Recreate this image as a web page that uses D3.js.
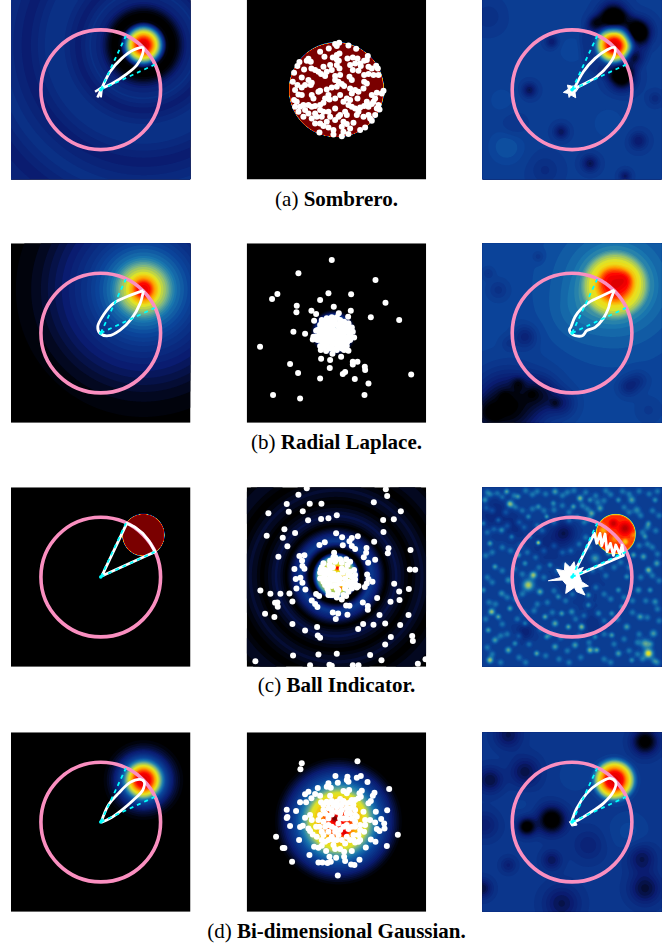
<!DOCTYPE html>
<html>
<head>
<meta charset="utf-8">
<script src="https://cdn.jsdelivr.net/npm/d3@7"></script>
<style>
  html, body { margin: 0; padding: 0; background: #fff; }
  svg { display: block; }
</style>
</head>
<body>
<div id="chart"></div>
<script>
// Points and curves use the crop's coordinates (see frameX/frameY); field centres and
// blobs are measured from the panel's own top-left corner, in the same 3x units.
const captions = [
  ["(a) ", "Sombrero."],
  ["(b) ", "Radial Laplace."],
  ["(c) ", "Ball Indicator."],
  ["(d) ", "Bi-dimensional Gaussian."]
];

// colour map
const colorStops = [0, 0.14, 0.3, 0.4, 0.5, 0.6, 0.7, 0.82, 1];
const colorValues = ["#000000", "#0a1c70", "#0b469c", "#1a7ab0", "#70b090", "#e8e820", "#ffa000", "#ff0000", "#7a0000"];

// wedge ends and circle radius in plot units
const wedgeEnds = [[0.42, 0.9], [0.9, 0.42]];
const circleRadius = 1;

// radial profiles: centre, radii, values
const sombreroLeftCenter = [397, 135];
const sombreroLeftRadii = [0, 15, 28, 38, 46, 54, 62, 70, 92, 105, 115, 130, 160, 195, 240, 275, 350, 430, 505, 600];
const sombreroLeftValues = [0.9, 0.85, 0.74, 0.62, 0.54, 0.4, 0.2, 0.02, 0, 0.05, 0.11, 0.17, 0.22, 0.15, 0.22, 0.24, 0.15, 0.23, 0.15, 0.22];

const ballMidCenter = [269, 269];
const ballMidRadii = [0, 140, 142];
const ballMidValues = [1.05, 1.05, 0];

const sombreroRightCenter = [396, 135];
const sombreroRightRadii = [0, 18, 30, 40, 48, 56, 64, 75, 95, 115];
const sombreroRightValues = [0.63, 0.58, 0.47, 0.35, 0.27, 0.13, 0, -0.05, -0.05, 0];
const sombreroRightBase = 0.27;
const sombreroRightBlobs = [
  [393, 50, 28, -0.35], [468, 95, 26, -0.35], [418, 230, 26, -0.35], [453, 170, 16, -0.15], [338, 70, 16, -0.15],
  [141, 270, 15, -0.16], [236, 395, 15, -0.15], [208, 125, 13, -0.13], [323, 490, 17, -0.16], [468, 422, 18, -0.13],
  [428, 528, 12, -0.14], [188, 510, 30, -0.06], [518, 295, 14, -0.07], [18, 50, 30, -0.05], [93, 375, 25, -0.04],
  [73, 440, 35, 0.07], [268, 150, 30, 0.04], [58, 300, 35, 0.03], [378, 370, 35, 0.04], [148, 30, 30, 0.02]
];

const laplaceLeftCenter = [397, 138];
const laplaceLeftRadii = [0, 20, 35, 50, 70, 85, 100, 130, 170, 220, 270, 320, 370, 420];
const laplaceLeftValues = [0.88, 0.82, 0.7, 0.6, 0.53, 0.45, 0.39, 0.32, 0.24, 0.17, 0.11, 0.05, 0.02, 0];

const laplaceMidCenter = [260, 268];
const laplaceMidRadii = [0, 50, 60, 70];
const laplaceMidValues = [0.5, 0.3, 0.1, 0];

const laplaceRightCenter = [398, 125];
const laplaceRightRadii = [0, 35, 50, 62, 75, 90, 105, 130, 170, 230, 300];
const laplaceRightValues = [0.58, 0.5, 0.42, 0.33, 0.3, 0.24, 0.14, 0.09, 0.05, 0.02, 0];
const laplaceRightBase = 0.3;
const laplaceRightBlobs = [
  [433, 105, 20, 0.06], [373, 95, 20, 0.03], [78, 490, 70, -0.3], [8, 510, 30, -0.1], [128, 280, 24, -0.12],
  [48, 140, 20, -0.07], [178, 450, 35, -0.14], [240, 480, 28, -0.12], [438, 430, 20, -0.11], [468, 410, 20, -0.07],
  [168, 40, 12, -0.06], [18, 90, 12, -0.06], [78, 300, 16, -0.05], [498, 500, 25, -0.04], [38, 510, 12, -0.1],
  [108, 420, 14, -0.1], [148, 450, 12, -0.05], [218, 480, 10, -0.07], [68, 460, 12, -0.06], [278, 210, 50, 0.03]
];

const ballLeftCenter = [397, 143];
const ballLeftRadii = [0, 61, 63];
const ballLeftValues = [1.05, 1.05, 0];

const ringsMidCenter = [268, 266];
const ringsMidRadii = [0, 30, 50, 58, 65, 72, 80, 105, 125, 150, 165, 180, 200, 222, 245, 260, 285, 300, 330, 350, 375];
const ringsMidValues = [0.6, 0.58, 0.56, 0.45, 0.2, 0, 0, 0.27, 0.16, 0, 0.06, 0.1, 0.05, 0, 0.06, 0.07, 0.02, 0, 0.05, 0.05, 0];
const ringsMidBlobs = [[272, 242, 5, 0.3], [292, 273, 5, 0.3], [280, 303, 5, 0.25]];

const noiseCenter = [400, 140];
const noiseRadii = [0, 57, 59, 61];
const noiseValues = [0.53, 0.52, 0.3, 0];
const noiseBase = 0.27;
const noiseBlobs = [
  [83, 50, 8, 0.3], [73, 13, 6, 0.22], [218, 13, 7, 0.2], [293, 33, 7, 0.25], [273, 58, 6, 0.2], [328, 78, 7, 0.22],
  [353, 63, 7, 0.2], [448, 38, 8, 0.2], [463, 68, 8, 0.17], [168, 166, 5, 0.35], [108, 203, 6, 0.22], [138, 293, 12, 0.3],
  [153, 263, 8, 0.28], [173, 313, 7, 0.22], [28, 373, 7, 0.28], [48, 388, 6, 0.22], [83, 363, 6, 0.2], [298, 418, 7, 0.28],
  [323, 488, 7, 0.25], [343, 488, 6, 0.22], [498, 498, 10, 0.36], [488, 468, 10, 0.22], [513, 438, 8, 0.2], [23, 518, 7, 0.28],
  [78, 488, 7, 0.22], [98, 468, 6, 0.17], [278, 473, 7, 0.2], [218, 408, 7, 0.22], [188, 388, 6, 0.22], [238, 378, 6, 0.2],
  [163, 498, 6, 0.22], [218, 478, 7, 0.2], [408, 498, 7, 0.2], [448, 518, 6, 0.17], [433, 418, 7, 0.2], [388, 443, 6, 0.2],
  [473, 388, 7, 0.2], [518, 343, 7, 0.17], [498, 248, 7, 0.25], [523, 228, 7, 0.2], [483, 208, 7, 0.2], [453, 203, 6, 0.2],
  [468, 308, 7, 0.17], [348, 378, 7, 0.17], [78, 278, 7, 0.17], [38, 238, 6, 0.2], [23, 168, 6, 0.2], [58, 128, 7, 0.2],
  [88, 148, 6, 0.17], [48, 98, 6, 0.17], [138, 88, 6, 0.17], [193, 88, 5, 0.2], [168, 58, 6, 0.17], [108, 28, 6, 0.17],
  [8, 38, 7, 0.2], [268, 373, 7, 0.17], [318, 323, 6, 0.2], [408, 308, 6, 0.17], [433, 268, 6, 0.17], [378, 198, 6, 0.2],
  [338, 213, 10, 0.2], [203, 233, 6, 0.17], [128, 228, 6, 0.17], [143, 148, 5, 0.17], [18, 428, 6, 0.2], [3, 308, 6, 0.17],
  [58, 318, 7, 0.17], [228, 328, 6, 0.17], [318, 353, 6, 0.17], [258, 418, 6, 0.22], [388, 378, 6, 0.17], [418, 358, 6, 0.17],
  [503, 308, 6, 0.17], [193, 448, 6, 0.17], [38, 458, 7, 0.2], [128, 408, 6, 0.17], [338, 448, 6, 0.17], [518, 38, 6, 0.17],
  [498, 108, 6, 0.17], [488, 148, 6, 0.17], [3, 108, 6, 0.17], [213, 48, 6, 0.17], [323, 38, 6, 0.17], [408, 38, 6, 0.17],
  [246, 136, 22, -0.14], [128, 433, 18, -0.1], [38, 78, 35, -0.08], [328, 408, 25, -0.05], [200, 170, 35, -0.07],
  [100, 120, 25, -0.06], [290, 270, 40, -0.04],
  [428, 123, 12, 0.14], [393, 108, 8, 0.12], [363, 128, 8, -0.1], [428, 163, 6, -0.14], [398, 153, 8, -0.08], [453, 143, 6, -0.06]
];
// the fainter speckle in the same panel
const noiseSpeckle = [
  [15,15],[25,22],[45,18],[60,30],[95,25],[130,10],[150,22],[165,12],[190,20],[240,25],[255,15],[275,10],[310,15],[340,25],[370,10],[385,22],[420,12],[440,20],[470,12],[500,20],[525,12],
  [12,62],[30,70],[70,75],[100,60],[120,70],[150,65],[185,70],[215,68],[240,55],[260,75],[300,55],[315,65],[345,45],[365,40],[425,60],[440,75],[475,85],[510,70],[530,85],
  [15,135],[35,125],[75,115],[110,105],[125,120],[165,115],[180,130],[215,105],[260,100],[285,90],[305,105],[320,95],[495,120],[520,130],[480,135],
  [10,205],[30,195],[60,180],[85,190],[115,175],[135,195],[160,210],[185,190],[215,175],[240,195],[265,190],[290,170],[310,150],[320,180],[510,180],[525,200],[495,170],[470,175],
  [15,270],[30,285],[60,250],[95,245],[120,260],[170,240],[185,270],[225,250],[250,235],[330,250],[355,240],[370,265],[395,240],[415,225],[440,240],[475,270],[510,265],[530,280],
  [20,345],[40,350],[75,330],[100,335],[120,320],[165,350],[195,345],[215,310],[250,340],[270,320],[300,300],[340,300],[365,320],[385,335],[425,330],[450,340],[490,340],[525,365],
  [10,395],[60,410],[105,395],[125,375],[155,370],[210,375],[280,395],[305,385],[365,400],[405,395],[450,375],[495,390],[530,400],
  [15,480],[55,445],[75,440],[110,445],[140,470],[175,425],[205,440],[235,450],[255,490],[290,445],[320,465],[365,440],[395,470],[425,455],[465,465],[470,440],[515,520],[480,515],[505,470],
  [30,500],[55,525],[110,510],[130,525],[190,505],[230,515],[260,525],[295,510],[365,515],[385,525],[440,490],[465,500],[525,525]
];

const gaussLeftCenter = [397, 143];
const gaussLeftRadii = [0, 20, 30, 42, 50, 58, 66, 80, 95, 110, 125];
const gaussLeftValues = [0.9, 0.84, 0.76, 0.62, 0.54, 0.42, 0.32, 0.2, 0.1, 0.04, 0];

const gaussMidCenter = [275, 266];
const gaussMidRadii = [0, 40, 60, 85, 100, 115, 130, 150, 170, 185, 195];
const gaussMidValues = [0.84, 0.78, 0.68, 0.6, 0.48, 0.38, 0.3, 0.2, 0.1, 0.03, 0];
const gaussMidBlobs = [[263, 258, 6, 0.25], [295, 303, 7, 0.12]];

const gaussRightCenter = [396, 143];
const gaussRightRadii = [0, 25, 38, 48, 55, 62, 72, 85];
const gaussRightValues = [0.65, 0.58, 0.45, 0.35, 0.28, 0.15, 0.03, 0];
const gaussRightBase = 0.25;
const gaussRightBlobs = [
  [208, 263, 28, -0.32], [133, 283, 18, -0.3], [23, 143, 26, -0.16], [128, 118, 30, -0.15], [488, 28, 26, -0.28],
  [78, 8, 28, -0.14], [208, 383, 20, -0.13], [78, 398, 16, -0.09], [318, 338, 32, -0.08], [478, 378, 28, -0.14],
  [488, 468, 32, -0.17], [238, 513, 36, -0.14], [8, 278, 28, -0.1], [0, 468, 20, -0.16],
  [278, 128, 40, 0.03], [438, 298, 40, 0.05], [118, 218, 30, 0.02]
];

// scatter readings
const ballPoints = [
  [297,128],[285,132],[290,138],[325,136],[348,146],[266,145],[240,155],[298,160],[290,165],[278,172],[253,170],[338,172],[322,175],[352,175],[383,168],
  [380,180],[290,178],[296,182],[205,176],[200,182],[212,185],[178,186],[172,198],[192,208],[162,218],[185,232],[214,205],[225,210],[235,215],[243,222],
  [250,200],[270,195],[275,210],[260,215],[255,228],[290,195],[298,205],[300,225],[285,228],[330,195],[345,190],[360,190],[372,182],[338,210],[328,230],
  [335,240],[355,212],[362,198],[385,200],[395,205],[408,197],[413,205],[372,225],[385,222],[400,225],[415,225],[158,245],[172,255],[165,270],[185,262],
  [195,255],[205,240],[215,248],[212,255],[240,272],[235,275],[285,240],[295,245],[275,262],[290,260],[305,252],[312,258],[330,265],[345,270],[260,268],
  [335,280],[355,275],[370,265],[372,245],[380,250],[430,272],[425,280],[410,278],[395,285],[175,283],[162,300],[185,285],[170,305],[215,285],[220,295],
  [265,285],[255,295],[285,295],[300,285],[320,295],[352,295],[330,300],[405,295],[400,305],[380,305],[415,315],[165,320],[180,320],[190,315],[205,315],
  [215,320],[225,318],[240,315],[250,308],[268,298],[310,305],[325,315],[335,320],[345,325],[360,322],[372,318],[385,320],[395,312],[410,325],[418,328],
  [285,325],[175,335],[195,330],[205,340],[225,340],[240,330],[250,335],[265,335],[300,345],[315,335],[320,345],[355,335],[350,345],[370,350],[385,345],
  [405,345],[390,355],[395,362],[190,350],[215,355],[230,350],[245,350],[270,350],[260,365],[240,370],[285,360],[310,365],[320,372],[340,368],[375,382],
  [360,390],[225,370],[250,378],[265,382],[280,390],[238,397],[280,403],[305,408],[310,395],[325,402],[330,385],[305,380],[295,350]
];
const laplacePoints = [
  [275,60],[175,100],[406,120],[112,162],[96,177],[265,160],[333,163],[240,180],[436,188],[170,197],[281,200],[169,217],[214,212],[228,222],[332,212],
  [296,220],[324,230],[392,232],[477,240],[222,242],[160,275],[195,281],[60,320],[243,356],[270,360],[277,341],[303,350],[338,365],[352,365],[338,373],
  [150,372],[269,384],[374,380],[375,390],[174,399],[315,396],[308,402],[240,415],[344,417],[385,430],[513,403],[99,465],[180,475],[373,465],
  [245,240],[260,235],[275,232],[290,232],[300,240],[312,245],[325,250],[335,262],[338,275],[342,292],[330,300],[320,318],[325,332],[305,325],[290,330],
  [275,322],[258,333],[242,330],[240,318],[232,300],[218,298],[220,290],[228,272],[240,265],[250,252],[268,250],[283,248],[295,258],[310,262],[322,275],
  [312,288],[300,300],[285,310],[268,305],[252,295],[245,282],[262,275],[278,268],[292,280],[280,290],[265,290],[305,275],[255,265],[270,262],[295,295],
  [310,305],[325,290],[240,300],[250,310],[262,318],[245,245],[290,315],[275,280],[262,245],[315,275],
  [258,242],[270,240],[285,238],[300,250],[315,255],[330,262],[240,255],[252,258],[265,258],[280,256],[290,252],[305,262],[318,265],[232,270],[245,272],
  [255,278],[268,270],[285,272],[298,270],[312,275],[330,285],[238,285],[252,288],[270,282],[285,285],[300,283],[315,295],[228,290],[245,295],[262,298],
  [275,298],[290,298],[305,290],[322,305],[248,305],[260,308],[278,312],[295,308],[308,315],[315,310],[250,322],[268,325],[282,328],[298,320],[312,330]
];
const ringsPoints = [
  [200,25],[437,28],[175,44],[441,48],[140,72],[209,71],[244,71],[401,67],[85,100],[146,95],[188,94],[482,94],[204,121],[243,117],[265,115],[290,106],
  [429,120],[461,118],[133,148],[430,156],[165,159],[288,160],[80,167],[128,173],[306,172],[335,174],[353,169],[328,184],[402,185],[238,195],[254,187],
  [308,196],[142,199],[335,198],[345,207],[379,204],[445,205],[511,210],[378,218],[443,220],[282,218],[371,232],[115,230],[178,228],[193,226],[285,232],
  [318,238],[405,239],[186,242],[270,242],[330,245],[384,248],[187,258],[193,266],[163,267],[509,268],[525,269],[342,270],[381,283],[167,297],[181,293],
  [385,297],[397,305],[187,308],[380,310],[462,311],[169,325],[196,328],[374,321],[355,318],[61,331],[477,334],[506,327],[91,341],[121,341],[148,340],
  [228,342],[237,348],[411,354],[215,361],[157,364],[478,360],[451,365],[368,367],[112,367],[105,368],[113,380],[225,372],[232,381],[318,376],[328,377],
  [383,378],[383,389],[75,401],[278,397],[294,400],[322,404],[505,405],[418,405],[103,411],[287,417],[157,432],[435,430],[369,432],[400,434],[480,435],
  [231,441],[354,447],[195,451],[233,466],[240,473],[452,471],[516,468],[518,483],[435,493],[235,523],[159,526],[290,521],[390,525],[424,540],[46,543],
  [533,551],[556,537],[210,555],[268,554],[275,557],[338,555],[355,555],
  [245,262],[255,270],[268,255],[285,245],[305,248],[322,255],[240,278],[252,285],[268,275],[280,280],[295,285],[308,278],[325,285],[335,290],[262,298],
  [278,300],[292,300],[310,310],[325,305],[338,305],[255,315],[268,312],[285,315],[298,310],[265,335],[278,345],[290,352],[305,358],[318,348],[335,325],
  [350,322],[345,285],[345,298],[262,325],[315,325],[325,335],[310,345],[250,250],[292,340],[272,345],
  [248,275],[258,282],[272,288],[285,292],[300,295],[315,295],[330,275],[318,270],[305,265],[278,262],[260,305],[275,318],[290,325],[318,318],[345,312],
  [240,295],[250,305],[265,345],[295,330],[330,315],[280,232],[300,238],[270,265],[255,295],[242,268]
];
const gaussPoints = [
  [185,115],[352,109],[181,133],[286,153],[322,155],[320,165],[350,158],[362,153],[382,171],[265,175],[293,173],[325,170],[260,185],[272,188],[233,189],
  [447,192],[327,195],[365,197],[310,198],[205,200],[195,208],[358,205],[403,203],[398,212],[320,205],[225,207],[240,212],[214,220],[270,212],[335,225],
  [355,220],[362,215],[180,232],[198,232],[243,232],[275,228],[300,222],[385,235],[320,235],[392,228],[140,254],[168,258],[441,256],[407,260],[142,276],
  [140,279],[210,270],[195,278],[215,285],[423,282],[390,285],[405,292],[432,295],[150,303],[180,306],[188,302],[205,310],[210,318],[228,305],[410,312],
  [418,318],[433,310],[473,329],[108,335],[218,328],[177,345],[392,343],[406,350],[360,345],[345,352],[440,363],[222,365],[235,368],[245,362],[377,367],
  [128,369],[133,369],[258,378],[285,372],[300,372],[312,380],[335,378],[208,390],[268,395],[288,398],[312,395],[358,404],[315,408],[235,412],[247,412],
  [262,414],[272,410],[333,418],[343,420],[156,410],[293,451],
  [250,240],[265,250],[290,245],[305,240],[320,250],[340,240],[330,265],[300,265],[310,280],[345,290],[320,300],[295,295],[300,315],[255,265],[250,290],
  [235,285],[265,300],[265,320],[250,330],[275,335],[290,345],[305,345],[330,345],[355,330],[372,320],[340,330],[305,255],[320,280],[335,305],[285,320],
  [265,280],[245,320],[280,360],[315,355],[345,270],[360,300],
  [260,230],[280,240],[310,228],[330,232],[345,255],[335,280],[350,275],[290,260],[275,268],[265,272],[240,270],[238,305],[255,305],[275,305],[285,310],
  [310,305],[325,312],[345,305],[360,315],[340,345],[355,350],[320,335],[295,330],[280,345],[265,345],[245,345],[255,350],[230,335],[300,240],[320,265],
  [345,225],[275,255],[300,280],[250,255],[265,235],[290,230],[330,250],[375,285],[375,300],[370,260]
];

// white curves
const sombreroLeftCurve = [[305,265],[330,215],[365,175],[400,150],[428,143],[428,160],[410,195],[375,225],[340,248],[305,265]];
const sombreroLeftStar = [[285,275],[305,262],[292,292],[305,265],[302,292]];
const sombreroRightCurve = [[298,265],[325,215],[360,175],[395,150],[418,142],[418,165],[400,195],[365,230],[330,250],[298,265]];
const sombreroRightStar = [[265,277],[280,267],[277,255],[290,258],[303,258],[298,270],[310,265],[300,278],[302,293],[288,285],[282,292],[280,280]];
const laplaceLeftCurve = [[430,152],[385,168],[340,190],[310,225],[293,260],[300,280],[325,287],[360,270],[395,235],[420,190],[430,152]];
const laplaceRightCurve = [[418,150],[380,168],[345,185],[320,205],[300,230],[288,260],[283,270],[295,285],[322,287],[335,272],[360,262],[385,235],[400,205],[405,185],[418,150]];
const ballLeftCurve = [[305,288],[380,130],[405,142],[428,160],[448,185],[465,215],[305,288]];
const noiseCurve = [[290,292],[358,160],[365,190],[375,160],[380,197],[390,162],[396,215],[406,190],[415,226],[422,195],[434,222],[441,195],[445,226],[290,292]];
const noiseStar = [[220,302],[258,292],[245,268],[268,272],[270,248],[285,262],[297,245],[303,270],[325,262],[312,285],[320,305],[340,318],[318,322],[330,345],[305,335],[298,322],[272,340],[275,315],[262,300]];
const gaussLeftCurve = [[303,292],[325,240],[355,205],[390,172],[420,163],[432,170],[428,195],[400,225],[365,255],[330,280],[303,292]];
const gaussRightCurve = [[288,295],[305,250],[335,205],[370,175],[405,160],[422,172],[415,200],[385,235],[350,260],[310,285],[288,295]];
const gaussRightStar = [[283,290],[300,288],[306,300],[290,303]];

// layout
const colLeft = [11, 246.7, 482.3];
const rowTop = [0, 243.3, 487.3, 732.3];
const captionBase = [206, 449, 692, 938];
const size = 179.5;
const frameX = [33, 20, 22];   // reading coordinate of the panel's left edge, by column
const frameY = [0, 10, 22, 22]; // same for the top edge, by row
const frameSpan = 538;
const gridN = 180;

const panels = [
  { row: 0, col: 0, field: { center: sombreroLeftCenter, radii: sombreroLeftRadii, values: sombreroLeftValues }, curve: sombreroLeftCurve, open: sombreroLeftStar },
  { row: 0, col: 1, field: { center: ballMidCenter, radii: ballMidRadii, values: ballMidValues }, points: ballPoints },
  { row: 0, col: 2, field: { center: sombreroRightCenter, radii: sombreroRightRadii, values: sombreroRightValues, base: sombreroRightBase, blobs: sombreroRightBlobs }, curve: sombreroRightCurve, star: sombreroRightStar },
  { row: 1, col: 0, field: { center: laplaceLeftCenter, radii: laplaceLeftRadii, values: laplaceLeftValues }, curve: laplaceLeftCurve },
  { row: 1, col: 1, field: { center: laplaceMidCenter, radii: laplaceMidRadii, values: laplaceMidValues }, points: laplacePoints },
  { row: 1, col: 2, field: { center: laplaceRightCenter, radii: laplaceRightRadii, values: laplaceRightValues, base: laplaceRightBase, blobs: laplaceRightBlobs }, curve: laplaceRightCurve },
  { row: 2, col: 0, field: { center: ballLeftCenter, radii: ballLeftRadii, values: ballLeftValues }, curve: ballLeftCurve, straight: true },
  { row: 2, col: 1, field: { center: ringsMidCenter, radii: ringsMidRadii, values: ringsMidValues, blobs: ringsMidBlobs }, points: ringsPoints },
  { row: 2, col: 2, field: { center: noiseCenter, radii: noiseRadii, values: noiseValues, base: noiseBase, blobs: noiseBlobs.concat(noiseSpeckle.map(d => [d[0], d[1], 7, 0.13])) }, curve: noiseCurve, star: noiseStar, straight: true },
  { row: 3, col: 0, field: { center: gaussLeftCenter, radii: gaussLeftRadii, values: gaussLeftValues }, curve: gaussLeftCurve },
  { row: 3, col: 1, field: { center: gaussMidCenter, radii: gaussMidRadii, values: gaussMidValues, blobs: gaussMidBlobs }, points: gaussPoints },
  { row: 3, col: 2, field: { center: gaussRightCenter, radii: gaussRightRadii, values: gaussRightValues, base: gaussRightBase, blobs: gaussRightBlobs }, curve: gaussRightCurve, star: gaussRightStar }
];

const width = 670, height = 944;
const svg = d3.select("#chart").append("svg").attr("width", width).attr("height", height);

const color = d3.scaleLinear().domain(colorStops).range(colorValues).clamp(true);
const thresholds = d3.range(0.015, 1.03, 0.025);
const defs = svg.append("defs");

panels.forEach((p, i) => {
  const x0 = frameX[p.col], y0 = frameY[p.row];
  const g = svg.append("g").attr("transform", `translate(${colLeft[p.col]},${rowTop[p.row]})`);

  defs.append("clipPath").attr("id", `clip${i}`)
    .append("rect").attr("width", size).attr("height", size);

  // plot units for the circle and wedge, reading units for what was traced
  const x = d3.scaleLinear().domain([-1.5, 1.5]).range([0, size]);
  const y = d3.scaleLinear().domain([-1.5, 1.5]).range([size, 0]);
  const readX = d3.scaleLinear().domain([x0, x0 + frameSpan]).range([0, size]);
  const readY = d3.scaleLinear().domain([y0, y0 + frameSpan]).range([0, size]);

  const layer = g.append("g").attr("clip-path", `url(#clip${i})`);
  layer.append("rect").attr("width", size).attr("height", size).attr("fill", "#000");

  // field on a grid
  const f = p.field;
  const profile = d3.scaleLinear().domain(f.radii).range(f.values).clamp(true);
  const blobs = f.blobs || [];
  const base = f.base || 0;
  const toFrame = d3.scaleLinear().domain([0, gridN]).range([0, frameSpan]);
  const grid = new Float64Array(gridN * gridN);
  for (let j = 0; j < gridN; j++) {
    for (let k = 0; k < gridN; k++) {
      const px = toFrame(k + 0.5), py = toFrame(j + 0.5);
      let v = base + profile(Math.hypot(px - f.center[0], py - f.center[1]));
      for (const b of blobs) {
        const dx = px - b[0], dy = py - b[1];
        v += b[3] * Math.exp(-(dx * dx + dy * dy) / (2 * b[2] * b[2]));
      }
      grid[j * gridN + k] = v;
    }
  }
  const toSize = d3.scaleLinear().domain([0, gridN]).range([0, size]);
  const gridPath = d3.geoPath(d3.geoTransform({
    point(a, b) { this.stream.point(toSize(a), toSize(b)); }
  }));
  layer.selectAll("path.band")
    .data(d3.contours().size([gridN, gridN]).thresholds(thresholds)(grid))
    .enter().append("path")
    .attr("class", "band")
    .attr("d", gridPath)
    .attr("fill", d => color(d.value));

  // scatter panels
  if (p.points) {
    g.selectAll("circle.pt")
      .data(p.points)
      .enter().append("circle")
      .attr("class", "pt")
      .attr("cx", d => readX(d[0]))
      .attr("cy", d => readY(d[1]))
      .attr("r", 3)
      .attr("fill", "#fff");
    return;
  }

  // ring
  layer.append("circle")
    .attr("cx", x(0)).attr("cy", y(0))
    .attr("r", x(circleRadius) - x(0))
    .attr("fill", "none")
    .attr("stroke", "#fa8fc0")
    .attr("stroke-width", 3.6);

  // white radial curve
  const line = d3.line().x(d => readX(d[0])).y(d => readY(d[1]))
    .curve(p.straight ? d3.curveLinear : d3.curveCatmullRom.alpha(0.5));
  layer.append("path")
    .attr("d", line(p.curve))
    .attr("fill", "none")
    .attr("stroke", "#fff")
    .attr("stroke-width", 2.8)
    .attr("stroke-linejoin", "round");
  if (p.star) {
    layer.append("path")
      .attr("d", d3.line().x(d => readX(d[0])).y(d => readY(d[1]))(p.star) + "Z")
      .attr("fill", "#fff").attr("stroke", "#fff").attr("stroke-width", 1);
  }
  if (p.open) {
    layer.append("path")
      .attr("d", d3.line().x(d => readX(d[0])).y(d => readY(d[1]))(p.open))
      .attr("fill", "none").attr("stroke", "#fff").attr("stroke-width", 2.4);
  }

  // cyan wedge
  wedgeEnds.forEach(e => {
    layer.append("line")
      .attr("x1", x(0)).attr("y1", y(0))
      .attr("x2", x(e[0])).attr("y2", y(e[1]))
      .attr("stroke", "#00ffff")
      .attr("stroke-width", 1.8)
      .attr("stroke-dasharray", "4,4");
  });
  layer.append("circle")
    .attr("cx", x(0)).attr("cy", y(0)).attr("r", 1.8).attr("fill", "#00ffff");
});

// captions
captions.forEach((c, i) => {
  const t = svg.append("text")
    .attr("x", 336.5)
    .attr("y", captionBase[i])
    .attr("text-anchor", "middle")
    .style("font-family", "'Liberation Serif', serif")
    .style("font-size", "21px")
    .attr("fill", "#000");
  t.append("tspan").text(c[0]);
  t.append("tspan").style("font-weight", "bold").text(c[1]);
});
</script>
</body>
</html>
